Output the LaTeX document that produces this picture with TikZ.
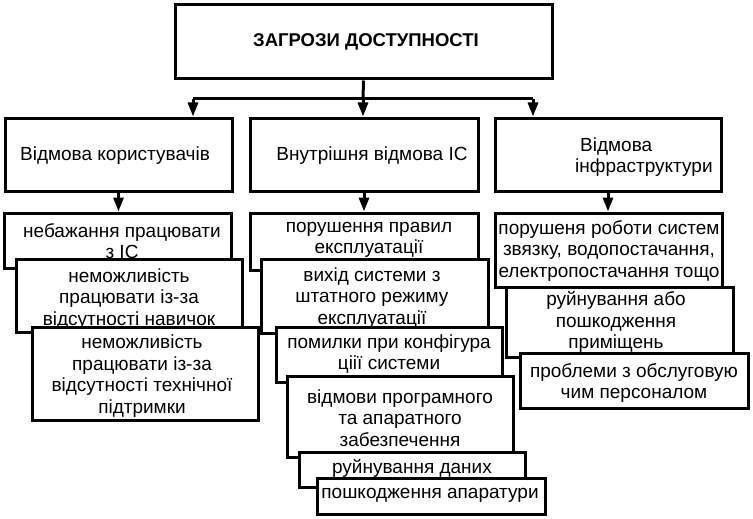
\documentclass[tikz,border=0pt]{standalone}
\usepackage{fontspec}
\setmainfont{Liberation Sans}
\usepackage{tikz}
\usetikzlibrary{arrows.meta}

\begin{document}
\begin{tikzpicture}[x=1pt,y=-1pt]
	\tikzstyle{box}=[draw,fill=white,line width=3pt,inner sep=0pt]
	\tikzstyle{txt}=[align=center,inner sep=0pt,font=\fontsize{19}{21.5}\selectfont]
	\tikzstyle{arr}=[line width=3pt,-{Triangle[length=14pt,width=10pt]}]
	\useasboundingbox (0,0) rectangle (753,519);
	% top
	\node[box,minimum width=377pt,minimum height=74pt] (top) at (363.5,42) {};
	\node[txt,font=\bfseries\fontsize{18.5}{21.5}\selectfont] (ttop) at (366,42) {ЗАГРОЗИ ДОСТУПНОСТІ};
	% first level
	\node[box,minimum width=227pt,minimum height=73pt] (A) at (118.5,154.5) {};
	\node[txt] (tA) at (115,156) {Відмова користувачів};
	\node[box,minimum width=228pt,minimum height=73pt] (B) at (364,154.5) {};
	\node[txt] (tB) at (372,156) {Внутрішня відмова ІС};
	\node[box,minimum width=226pt,minimum height=73pt] (C) at (608,154.5) {};
	\node[txt,align=left,anchor=west] (tC) at (575,157) {\hspace*{5pt}Відмова\\інфраструктури};
	% bus
	\coordinate (bus) at (363,99);
	\coordinate (busL) at (193,99);
	\coordinate (busR) at (533,99);
	\draw[line width=3pt] (top.south) -- (bus);
	\draw[line width=3pt] (busL) -- (busR);
	\draw[arr] (busL) -- (busL |- A.north);
	\draw[arr] (bus) -- (bus |- B.north);
	\draw[arr] (busR) -- (busR |- C.north);
	% column 1
	\node[box,minimum width=227pt,minimum height=55pt] (a1) at (117.5,240.5) {};
	\node[txt] (ta1) at (122,241) {небажання працювати\\з ІС};
	\node[box,minimum width=226pt,minimum height=73pt] (a2) at (129,295.5) {};
	\node[txt] (ta2) at (129,299) {неможливість\\працювати із-за\\відсутності навичок};
	\node[box,minimum width=226pt,minimum height=93pt] (a3) at (145,373.5) {};
	\node[txt] (ta3) at (142,376) {неможливість\\працювати із-за\\відсутності технічної\\підтримки};
	\draw[arr] (A.south) -- (A.south |- a1.north);
	% column 2
	\node[box,minimum width=228pt,minimum height=57pt] (b1) at (364,241.5) {};
	\node[txt] (tb1) at (369,240) {порушення правил\\експлуатації};
	\node[box,minimum width=227pt,minimum height=74pt] (b2) at (374.5,296) {};
	\node[txt] (tb2) at (372,298) {вихід системи з\\штатного режиму\\експлуатації};
	\node[box,minimum width=226pt,minimum height=55pt] (b3) at (389,354.5) {};
	\node[txt] (tb3) at (389,354) {помилки при конфігура\\ціії системи};
	\node[box,minimum width=226pt,minimum height=81pt] (b4) at (400,416.5) {};
	\node[txt] (tb4) at (400,418) {відмови програмного\\та апаратного\\забезпечення};
	\node[box,minimum width=226pt,minimum height=35pt] (b5) at (412,469.5) {};
	\node[txt] (tb5) at (412,468) {руйнування даних};
	\node[box,minimum width=228pt,minimum height=36pt] (b6) at (431,496) {};
	\node[txt] (tb6) at (430,495) {пошкодження апаратури};
	\draw[arr] (B.south) -- (B.south |- b1.north);
	% column 3
	\node[box,minimum width=227pt,minimum height=74pt] (c1) at (608.5,250) {};
	\node[txt] (tc1) at (609,251) {порушеня роботи систем\\звязку, водопостачання,\\електропостачання тощо};
	\node[box,minimum width=227pt,minimum height=70pt] (c2) at (619.5,322) {};
	\node[txt] (tc2) at (616,322) {руйнування або\\пошкодження\\приміщень};
	\node[box,minimum width=228pt,minimum height=55pt] (c3) at (634,380.5) {};
	\node[txt] (tc3) at (634,383) {проблеми з обслуговую\\чим персоналом};
	\draw[arr] (C.south) -- (C.south |- c1.north);
\end{tikzpicture}
\end{document}
